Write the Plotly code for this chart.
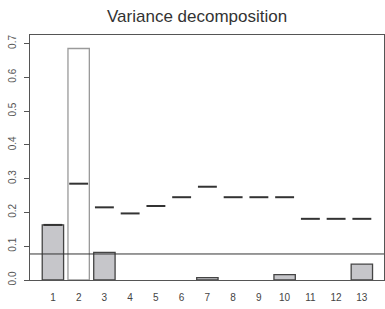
import plotly.graph_objects as go

categories = list(range(1, 14))
bar_values = [0.163, 0.685, 0.082, 0, 0, 0, 0.007, 0, 0, 0.016, 0, 0, 0.047]
dash_values = [0.163, 0.285, 0.215, 0.197, 0.219, 0.245, 0.276, 0.245, 0.245, 0.245, 0.181, 0.181, 0.181]
threshold = 0.077
y_ticks = [0.0, 0.1, 0.2, 0.3, 0.4, 0.5, 0.6, 0.7]
y_tick_labels = ["0.0", "0.1", "0.2", "0.3", "0.4", "0.5", "0.6", "0.7"]
highlight_index = 1  # bar 2 drawn unfilled

fills = ["white" if i == highlight_index else "#c6c6ca" for i in range(len(categories))]
lines = ["#9a9a9a" if i == highlight_index else "#444444" for i in range(len(categories))]
line_widths = [1.3 if v > 0 else 0 for v in bar_values]

fig = go.Figure()
fig.add_trace(go.Bar(
    x=categories, y=bar_values,
    marker=dict(color=fills, line=dict(color=lines, width=line_widths)),
    showlegend=False, hoverinfo="skip",
))
fig.add_trace(go.Scatter(
    x=categories, y=dash_values, mode="markers",
    marker=dict(symbol="line-ew", size=13.5, line=dict(color="#333333", width=2)),
    showlegend=False, hoverinfo="skip",
))
fig.add_hline(y=threshold, line=dict(color="#333333", width=1), layer="above")

fig.update_layout(
    width=385, height=309,
    margin=dict(l=30, r=1, t=35, b=29, autoexpand=False),
    paper_bgcolor="white", plot_bgcolor="white",
    bargap=0.17,
    font=dict(family="Liberation Sans, Arial, sans-serif", color="#444444"),
    title=dict(text="Variance decomposition", xref="container", x=0.512, xanchor="center",
               yref="container", y=0.948, yanchor="middle",
               font=dict(size=17, color="#333333")),
    xaxis=dict(range=[0.11, 13.86], tickmode="array", tickvals=categories,
               ticktext=[str(c) for c in categories], ticks="", showgrid=False,
               zeroline=False, showline=True, mirror=True, linecolor="#555555", linewidth=1,
               automargin=False, ticklabelstandoff=8, tickfont=dict(size=10, color="#444444")),
    yaxis=dict(range=[0, 0.725], tickmode="array", tickvals=y_ticks, ticktext=y_tick_labels,
               tickangle=-90, ticks="outside", ticklen=5, tickcolor="#555555",
               showgrid=False, zeroline=False, showline=True, mirror=True,
               linecolor="#555555", linewidth=1, automargin=False, ticklabelstandoff=4,
               tickfont=dict(size=10, color="#555555")),
)

fig.write_html("out.html", config={"displayModeBar": False},
               post_script="document.body.style.margin='0';")
